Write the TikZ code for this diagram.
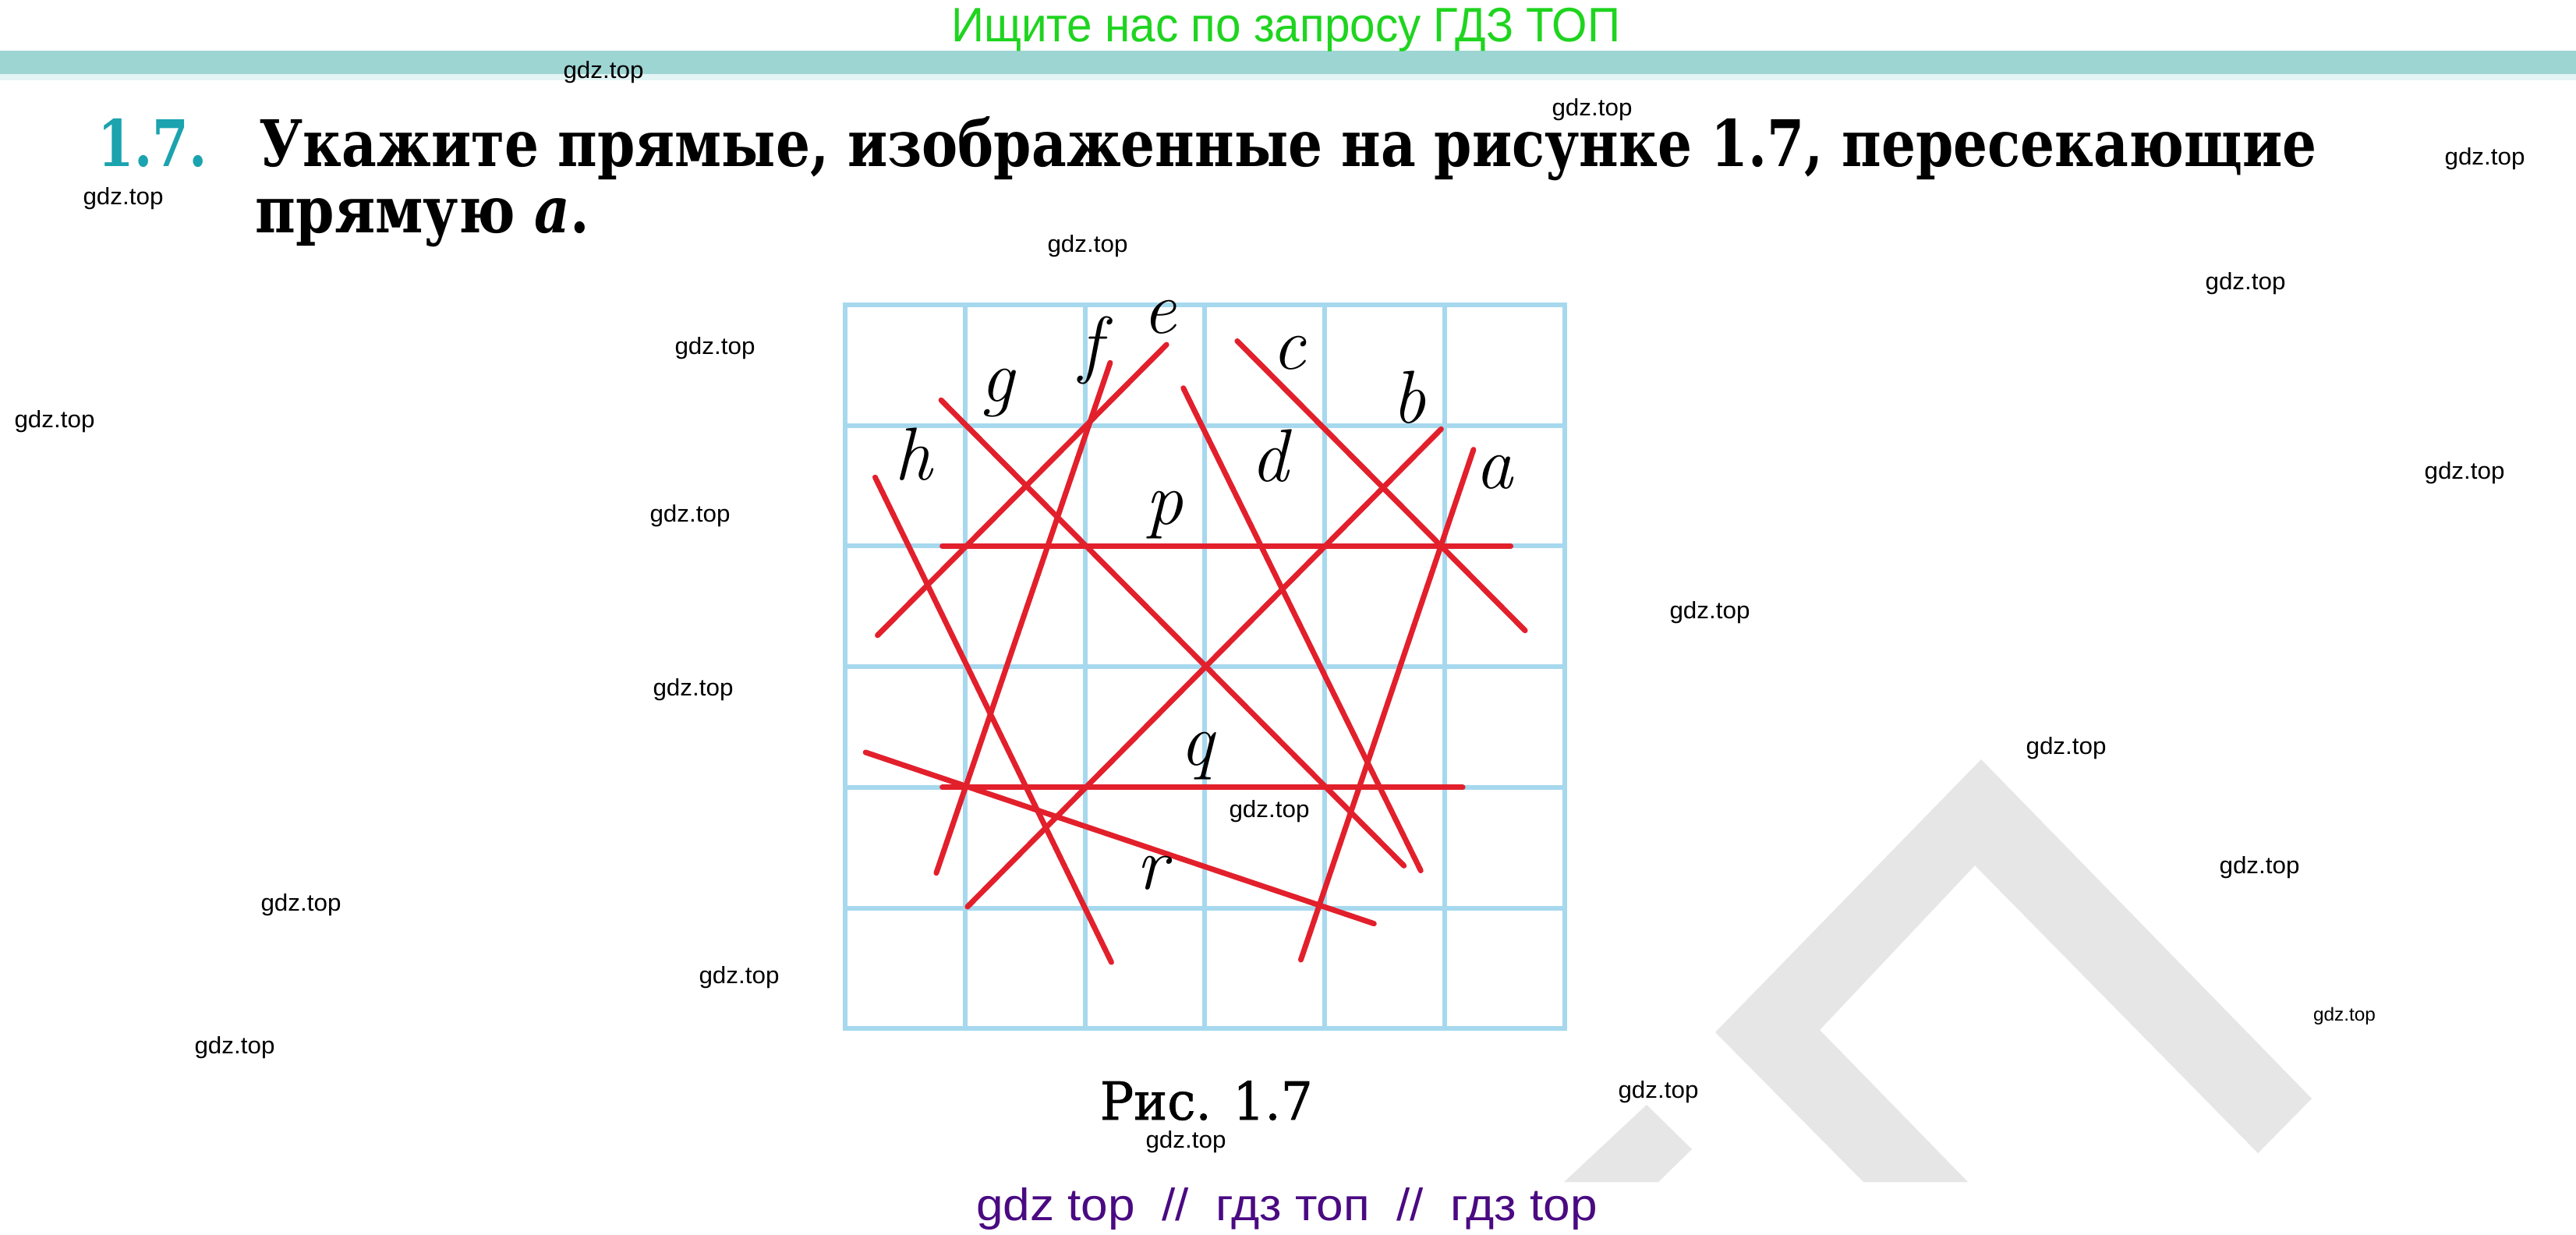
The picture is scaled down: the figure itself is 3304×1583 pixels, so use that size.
\documentclass[tikz,border=0pt]{standalone}
\usepackage{fontspec}
\usepackage{graphicx}
\newfontfamily\headfont{DejaVu Serif}
\newfontfamily\wmfont{Liberation Sans}
\definecolor{gridblue}{HTML}{A6D8EE}
\definecolor{linered}{HTML}{E2202C}
\definecolor{barteal}{HTML}{9DD5D3}
\definecolor{barlight}{HTML}{E3F4F4}
\definecolor{numteal}{HTML}{1BA3AF}
\definecolor{topgreen}{HTML}{1FD41F}
\definecolor{botpurple}{HTML}{4A0A82}
\definecolor{wmgrey}{HTML}{E6E6E6}
\newlength\fitlen
\newcommand\fitto[2]{\settowidth\fitlen{#2}\pgfmathsetmacro\fitsx{#1/\fitlen}\scalebox{\fitsx}[1]{#2}}
\begin{document}
\begin{tikzpicture}[x=0.25pt,y=-0.25pt,
  wm/.style={font=\wmfont\fontsize{7.6}{9}\selectfont, inner sep=0pt},
  gridline/.style={draw=gridblue, line width=1.5pt, line cap=rect},
  redline/.style={draw=linered, line width=1.75pt, line cap=round},
  lbl/.style={font=\fontsize{24}{28}\selectfont\itshape\addfontfeature{FakeBold=1}, inner sep=0pt}]
\useasboundingbox (0,0) rectangle (3304,1583);
\fill[white] (0,0) rectangle (3304,1583);
% grey background logo
\fill[wmgrey] (2541,974) -- (2965,1409) -- (2896,1479) -- (2533,1110) -- (2334,1321) -- (2524,1516) -- (2390,1516) -- (2200,1324) -- cycle;
\fill[wmgrey] (2112,1417) -- (2170,1474) -- (2127,1516) -- (2006,1516) -- cycle;
% top bar
\fill[barteal] (0,65) rectangle (3304,95);
\fill[barlight] (0,95) rectangle (3304,103);
\node[font=\wmfont\fontsize{15.5}{18}\selectfont, text=topgreen, anchor=base, inner sep=0pt] (top) at (1649,54) {\fitto{214.5}{Ищите нас по запросу ГДЗ ТОП}};
% heading
\node[font=\headfont\bfseries\fontsize{20.6}{24}\selectfont, text=numteal, anchor=base west, inner sep=0pt] (num) at (125,213) {\fitto{35}{1.7.}};
\node[font=\headfont\bfseries\fontsize{20.6}{24}\selectfont, anchor=base west, inner sep=0pt] (head1) at (332,213) {\fitto{659.75}{Укажите прямые, изображенные на рисунке 1.7, пересекающие}};
\node[font=\headfont\bfseries\fontsize{20.6}{24}\selectfont, anchor=base west, inner sep=0pt] (head2) at (327,298) {\fitto{107}{прямую \textit{a}.}};
% grid figure
\begin{scope}[shift={(1084,391)}, x=38.45pt, y=-38.675pt]
  \foreach \i in {0,...,6} {
    \draw[gridline] (\i,0) -- (\i,6);
    \draw[gridline] (0,\i) -- (6,\i);
  }
  \draw[redline] (0.81,2) -- (5.55,2);
  \draw[redline] (0.81,4) -- (5.15,4);
  \draw[redline] (0.17,3.71) -- (4.41,5.13);
  \draw[redline] (5.24,1.20) -- (3.80,5.43);
  \draw[redline] (4.97,1.03) -- (1.02,4.99);
  \draw[redline] (3.27,0.30) -- (5.67,2.70);
  \draw[redline] (2.82,0.69) -- (4.80,4.69);
  \draw[redline] (2.68,0.33) -- (0.27,2.74);
  \draw[redline] (2.21,0.48) -- (0.76,4.71);
  \draw[redline] (0.80,0.79) -- (4.66,4.65);
  \draw[redline] (0.25,1.43) -- (2.22,5.45);
  \node[lbl] (le) at (2.62,0.10) {e};
  \node[lbl] (lf) at (2.05,0.38) {f};
  \node[lbl] (lg) at (1.27,0.73) {g};
  \node[lbl] (lh) at (0.57,1.24) {h};
  \node[lbl] (lc) at (3.70,0.40) {c};
  \node[lbl] (lb) at (4.70,0.77) {b};
  \node[lbl] (ld) at (3.54,1.25) {d};
  \node[lbl] (la) at (5.41,1.39) {a};
  \node[lbl] (lp) at (2.66,1.74) {p};
  \node[lbl] (lq) at (2.93,3.74) {q};
  \node[lbl] (lr) at (2.56,4.71) {r};
\end{scope}
% caption
\node[font=\headfont\fontsize{16.8}{20}\selectfont\addfontfeature{FakeBold=1}, anchor=base west, inner sep=0pt] (cap) at (1410,1436) {\fitto{68.25}{Рис. 1.7}};
% bottom line
\node[font=\wmfont\fontsize{14.5}{16}\selectfont, text=botpurple, anchor=base, inner sep=0pt] (bot) at (1650.5,1565) {\fitto{199.25}{gdz top\ \ //\ \ гдз топ\ \ //\ \ гдз top}};
% watermarks
\node[wm] (w1) at (774,93) {\fitto{25.75}{gdz.top}};
\node[wm] (w2) at (2042,141) {\fitto{25.75}{gdz.top}};
\node[wm] (w3) at (3187,204) {\fitto{25.75}{gdz.top}};
\node[wm] (w4) at (158,255) {\fitto{25.75}{gdz.top}};
\node[wm] (w5) at (1395,316) {\fitto{25.75}{gdz.top}};
\node[wm] (w6) at (2880,364) {\fitto{25.75}{gdz.top}};
\node[wm] (w7) at (917,447) {\fitto{25.75}{gdz.top}};
\node[wm] (w8) at (70,541) {\fitto{25.75}{gdz.top}};
\node[wm] (w9) at (3161,607) {\fitto{25.75}{gdz.top}};
\node[wm] (w10) at (885,662) {\fitto{25.75}{gdz.top}};
\node[wm] (w11) at (2193,786) {\fitto{25.75}{gdz.top}};
\node[wm] (w12) at (889,885) {\fitto{25.75}{gdz.top}};
\node[wm] (w13) at (2650,960) {\fitto{25.75}{gdz.top}};
\node[wm] (w14) at (1628,1041) {\fitto{25.75}{gdz.top}};
\node[wm] (w15) at (2898,1113) {\fitto{25.75}{gdz.top}};
\node[wm] (w16) at (386,1161) {\fitto{25.75}{gdz.top}};
\node[wm] (w17) at (948,1254) {\fitto{25.75}{gdz.top}};
\node[wm, font=\wmfont\fontsize{6}{7}\selectfont] (w18) at (3007,1303) {\fitto{20}{gdz.top}};
\node[wm] (w19) at (301,1344) {\fitto{25.75}{gdz.top}};
\node[wm] (w20) at (2127,1401) {\fitto{25.75}{gdz.top}};
\node[wm] (w21) at (1521,1465) {\fitto{25.75}{gdz.top}};
\end{tikzpicture}
\end{document}
